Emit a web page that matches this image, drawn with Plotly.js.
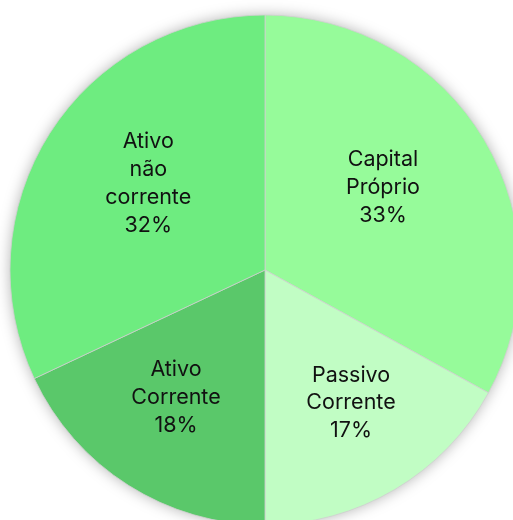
<!DOCTYPE html>
<html>
<head>
<meta charset="utf-8">
<script src="https://cdn.plot.ly/plotly-3.0.1.min.js"></script>
<style>
html, body { margin: 0; padding: 0; overflow: hidden; background: #fff; }
#chart { width: 530px; height: 540px; }
.pielayer .trace { filter: drop-shadow(0 0 7px rgba(0,0,0,0.28)); }
</style>
</head>
<body>
<div id="chart"></div>
<script>
const labels = ["Capital<br>Próprio", "Passivo<br>Corrente", "Ativo<br>Corrente", "Ativo<br>não<br>corrente"];
const values = [33, 17, 18, 32];
const colors = ["#96fb9a", "#c1fdc4", "#5ac86a", "#6eec80"];

const trace = {
  type: "pie",
  labels: labels,
  values: values,
  sort: false,
  direction: "clockwise",
  rotation: 0,
  texttemplate: "%{label}<br>%{percent}<br>&nbsp;",
  textposition: "inside",
  insidetextorientation: "horizontal",
  textfont: { family: "Inter, Roboto, sans-serif", size: 21.5, color: "#111111" },
  marker: { colors: colors, line: { color: "#cfcfcf", width: 0.8 } },
  domain: { x: [10/530, 520/530], y: [15/540, 525/540] },
  hoverinfo: "none"
};

const layout = {
  width: 530,
  height: 540,
  margin: { l: 0, r: 0, t: 0, b: 0 },
  showlegend: false,
  paper_bgcolor: "#ffffff",
  plot_bgcolor: "#ffffff"
};

Plotly.newPlot("chart", [trace], layout, { displayModeBar: false, staticPlot: true });
</script>
</body>
</html>
